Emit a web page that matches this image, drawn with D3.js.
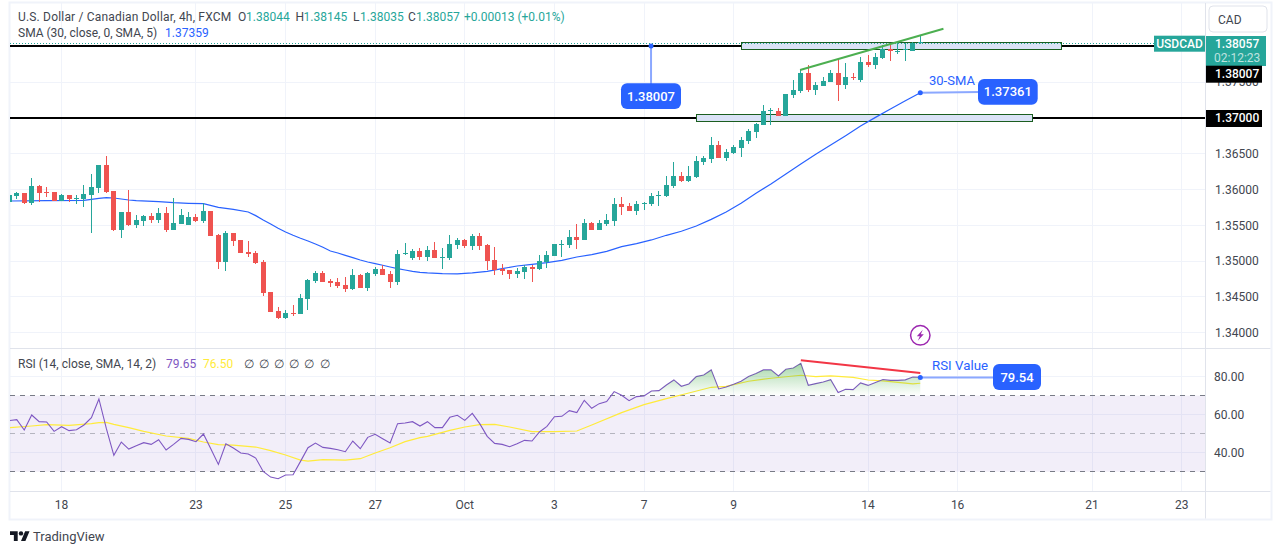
<!DOCTYPE html>
<html><head><meta charset="utf-8">
<script src="https://cdn.jsdelivr.net/npm/d3@7"></script>
<style>html,body{margin:0;padding:0;background:#fff}svg{display:block}text{font-family:Roboto,"Noto Sans",sans-serif}</style>
</head><body><svg id="c" width="1281" height="554"></svg>
<script>
const opens=[1.35831,1.35915,1.35952,1.35813,1.36050,1.35966,1.35966,1.35840,1.35924,1.35868,1.35868,1.35924,1.36022,1.36343,1.35980,1.35435,1.35687,1.35505,1.35561,1.35631,1.35575,1.35673,1.35435,1.35519,1.35505,1.35617,1.35561,1.35701,1.35365,1.34988,1.35393,1.35296,1.35128,1.35114,1.34988,1.34569,1.34304,1.34206,1.34271,1.34262,1.34471,1.34723,1.34835,1.34723,1.34709,1.34667,1.34611,1.34807,1.34625,1.34821,1.34890,1.34821,1.34709,1.35100,1.35044,1.35142,1.35058,1.35156,1.35049,1.35044,1.35226,1.35296,1.35212,1.35351,1.35226,1.35016,1.34890,1.34876,1.34821,1.34848,1.34918,1.34890,1.34988,1.35072,1.35226,1.35226,1.35337,1.35296,1.35533,1.35435,1.35519,1.35561,1.35799,1.35771,1.35701,1.35808,1.35799,1.35915,1.35910,1.36050,1.36190,1.36120,1.36176,1.36385,1.36427,1.36623,1.36441,1.36511,1.36581,1.36679,1.36804,1.36902,1.37098,1.37098,1.37028,1.37321,1.37377,1.37629,1.37391,1.37447,1.37503,1.37629,1.37461,1.37573,1.37531,1.37782,1.37741,1.37838,1.37964,1.37922,1.37946,1.37936,1.38044];
const highs=[1.35924,1.35966,1.35952,1.36162,1.36064,1.36036,1.35966,1.35938,1.35924,1.35924,1.36064,1.36218,1.36343,1.36469,1.35980,1.35687,1.35994,1.35645,1.35645,1.35673,1.35743,1.35757,1.35882,1.35729,1.35687,1.35659,1.35813,1.35701,1.35379,1.35421,1.35393,1.35296,1.35282,1.35142,1.35016,1.34569,1.34360,1.34318,1.34388,1.34541,1.34751,1.34862,1.34862,1.34751,1.34765,1.34779,1.34890,1.34821,1.34848,1.34918,1.34946,1.34862,1.35156,1.35254,1.35170,1.35184,1.35212,1.35268,1.35184,1.35365,1.35324,1.35310,1.35379,1.35393,1.35240,1.35198,1.34960,1.34876,1.34904,1.34946,1.34946,1.35086,1.35142,1.35240,1.35296,1.35435,1.35519,1.35589,1.35547,1.35575,1.35659,1.35882,1.35896,1.35813,1.35840,1.35826,1.35952,1.35980,1.36190,1.36385,1.36246,1.36329,1.36469,1.36469,1.36735,1.36679,1.36567,1.36623,1.36735,1.36846,1.36930,1.37182,1.37140,1.37140,1.37335,1.37531,1.37671,1.37741,1.37503,1.37573,1.37671,1.37824,1.37768,1.37629,1.37852,1.37880,1.37908,1.38020,1.38020,1.38048,1.38048,1.38062,1.38145];
const lows=[1.35831,1.35868,1.35799,1.35785,1.35826,1.35896,1.35840,1.35840,1.35826,1.35799,1.35757,1.35393,1.35952,1.35952,1.35421,1.35324,1.35491,1.35463,1.35491,1.35533,1.35533,1.35407,1.35435,1.35519,1.35505,1.35547,1.35533,1.35351,1.34890,1.34862,1.35212,1.35114,1.35058,1.34960,1.34513,1.34290,1.34192,1.34192,1.34234,1.34262,1.34318,1.34695,1.34709,1.34639,1.34625,1.34569,1.34597,1.34625,1.34583,1.34793,1.34807,1.34625,1.34667,1.35086,1.35016,1.35016,1.35002,1.35044,1.34890,1.35016,1.35170,1.35184,1.35156,1.35156,1.34876,1.34807,1.34807,1.34751,1.34765,1.34751,1.34709,1.34876,1.34904,1.35072,1.35058,1.35184,1.35170,1.35296,1.35435,1.35435,1.35491,1.35491,1.35645,1.35701,1.35645,1.35715,1.35771,1.35771,1.35896,1.36022,1.36106,1.36106,1.36162,1.36343,1.36371,1.36441,1.36399,1.36497,1.36455,1.36637,1.36721,1.36902,1.36902,1.37028,1.37028,1.37279,1.37349,1.37363,1.37321,1.37447,1.37503,1.37238,1.37405,1.37531,1.37503,1.37713,1.37685,1.37824,1.37796,1.37894,1.37796,1.37936,1.38035];
const closes=[1.35924,1.35952,1.35813,1.36050,1.35952,1.35952,1.35840,1.35924,1.35868,1.35882,1.35938,1.36036,1.36343,1.35966,1.35435,1.35687,1.35505,1.35575,1.35631,1.35575,1.35673,1.35435,1.35533,1.35645,1.35617,1.35561,1.35701,1.35351,1.34988,1.35393,1.35282,1.35114,1.35100,1.34974,1.34555,1.34290,1.34206,1.34276,1.34262,1.34485,1.34737,1.34835,1.34709,1.34695,1.34653,1.34611,1.34807,1.34625,1.34835,1.34890,1.34807,1.34709,1.35100,1.35109,1.35142,1.35058,1.35156,1.35044,1.35053,1.35240,1.35296,1.35212,1.35351,1.35212,1.35002,1.34876,1.34862,1.34821,1.34862,1.34918,1.34890,1.35002,1.35086,1.35240,1.35240,1.35337,1.35296,1.35533,1.35435,1.35533,1.35575,1.35799,1.35757,1.35701,1.35799,1.35817,1.35910,1.35924,1.36064,1.36190,1.36120,1.36190,1.36399,1.36441,1.36623,1.36441,1.36525,1.36595,1.36693,1.36818,1.36916,1.37098,1.37107,1.37028,1.37335,1.37391,1.37629,1.37391,1.37461,1.37517,1.37629,1.37461,1.37573,1.37564,1.37782,1.37741,1.37852,1.37964,1.37936,1.37936,1.37960,1.38043,1.38057];

const smaBars=[0,5,10,12,13,14,16,17,20,22,24,26,28,30,32,33,34,35,36,37,38,39,40,41,42,43,44,45,46,47,48,49,50,51,52,53,54,55,56,58,60,62,64,66,68,70,72,74,76,78,80,82,84,86,88,90,92,94,96,98,100,102,104,106,108,110,112,114,116,118,120,122];
const smaValues=[1.35840,1.35845,1.35850,1.35878,1.35887,1.35882,1.35854,1.35845,1.35831,1.35817,1.35808,1.35803,1.35752,1.35724,1.35687,1.35636,1.35575,1.35519,1.35459,1.35407,1.35361,1.35319,1.35282,1.35240,1.35193,1.35142,1.35114,1.35081,1.35049,1.35016,1.34988,1.34965,1.34942,1.34918,1.34895,1.34876,1.34858,1.34844,1.34835,1.34825,1.34821,1.34835,1.34858,1.34895,1.34932,1.34956,1.34979,1.35011,1.35058,1.35091,1.35137,1.35202,1.35244,1.35296,1.35361,1.35417,1.35491,1.35584,1.35687,1.35808,1.35948,1.36078,1.36218,1.36357,1.36492,1.36623,1.36753,1.36888,1.37009,1.37126,1.37242,1.37354];

const rsiValues=[56.84,57.37,51.93,59.82,56.31,56.14,51.22,53.68,51.58,52.10,54.56,58.42,68.24,52.63,38.59,45.61,41.93,43.68,45.26,44.38,46.84,41.40,44.38,47.54,47.01,45.79,49.82,41.93,33.86,44.73,42.45,39.82,39.29,37.19,30.17,27.19,26.31,28.24,28.42,35.44,42.63,45.08,42.80,42.28,41.58,40.52,46.14,42.10,48.07,49.65,47.36,45.08,55.26,55.61,56.31,54.03,56.31,53.16,53.16,58.59,59.65,57.01,60.70,55.26,48.59,44.91,44.38,43.16,44.73,46.49,46.14,50.87,53.86,58.94,59.12,62.10,61.05,67.54,63.33,65.79,66.84,72.10,70.17,67.37,69.47,69.82,72.45,72.63,75.61,78.24,74.91,76.14,80.00,80.87,83.51,73.51,74.56,75.96,77.54,80.00,81.58,83.51,83.51,80.35,83.86,84.56,87.01,75.44,76.31,77.19,78.42,71.58,73.33,73.15,76.66,75.38,76.95,78.50,78.00,78.00,78.30,79.74,79.65];
const rsiMaBars=[0,3,5,8,11,12,13,14,16,18,21,24,26,28,30,33,35,37,39,40,42,45,47,49,51,53,55,56,59,61,63,65,67,70,73,76,78,82,85,88,91,94,96,99,102,106,108,110,113,115,117,119,121,122];
const rsiMaValues=[53.16,54.03,54.73,54.38,55.26,55.79,55.96,54.91,53.16,51.22,48.77,47.54,45.61,44.21,44.03,42.98,41.05,38.77,36.14,35.61,36.31,36.14,36.84,39.82,42.63,45.79,47.89,48.59,51.75,53.51,54.73,54.91,53.51,51.05,51.05,51.40,54.56,61.05,65.26,68.42,71.40,74.38,74.91,77.54,79.12,80.70,80.00,80.35,79.60,78.20,77.80,76.95,76.20,76.50];

const timeTickBars=[7,25,37,49,61,73,85,97,115,127,145,157];
const timeTickLabels=["18","23","25","27","Oct","3","7","9","14","16","21","23"];
const priceGrid=[1.34,1.345,1.35,1.355,1.36,1.365,1.375,1.38];
const priceTicks=[1.34,1.345,1.35,1.355,1.36,1.365,1.375];
const rsiTicks=[40,60,80];
const rsiBands=[70,50,30];
const levels=[1.38007,1.37];
const zoneBars=[[98,140.9],[92.03,137.05]];
const zonePrices=[[1.38058,1.37954],[1.37052,1.36948]];
const trendBars=[105.9,125.1];
const trendPrices=[1.37671,1.38248];
const rsiTrendBars=[106,122];
const rsiTrendValues=[88.6,81.9];
const priceLineLevel=1.38038;

const svg=d3.select("#c");
const L=10,R=1205.5,T=3,B=518.5,PS=348.5,AX=491.5;
const x=d3.scaleLinear().domain([0,122]).range([9.3,920.3]);
const y=d3.scaleLinear().domain([1.37,1.34]).range([118,332.7]);
const ry=d3.scaleLinear().domain([40,80]).range([452.7,376.6]);
const C={up:"#26a69a",dn:"#ef5350",grid:"#f0f3fa",line:"#e0e3eb",txt:"#131722",leg:"#42464f",blue:"#2962ff",blueL:"#8ba8ff"};
const crisp=v=>Math.floor(v)+.5;

const defs=svg.append("defs");
defs.append("clipPath").attr("id","plot").append("rect").attr("x",L).attr("y",T).attr("width",R-L).attr("height",PS-T);
defs.append("clipPath").attr("id","rsi").append("rect").attr("x",L).attr("y",PS).attr("width",R-L).attr("height",AX-PS);
defs.append("clipPath").attr("id","ob").append("rect").attr("x",L).attr("y",PS).attr("width",R-L).attr("height",ry(70)-PS);
const gr=defs.append("linearGradient").attr("id","obg").attr("gradientUnits","userSpaceOnUse").attr("x1",0).attr("x2",0).attr("y1",ry(87)).attr("y2",ry(70));
gr.append("stop").attr("offset",0).attr("stop-color","#4caf50").attr("stop-opacity",.5);
gr.append("stop").attr("offset",1).attr("stop-color","#4caf50").attr("stop-opacity",0);

// frame
svg.append("rect").attr("x",9.5).attr("y",2.5).attr("width",1262).attr("height",517).attr("fill","#fff").attr("stroke",C.grid).attr("stroke-width",2);

// grid
const grid=svg.append("g").attr("stroke",C.grid).attr("stroke-width",1);
timeTickBars.forEach(b=>grid.append("line").attr("x1",crisp(x(b))).attr("x2",crisp(x(b))).attr("y1",T).attr("y2",AX));
priceGrid.forEach(p=>grid.append("line").attr("x1",L).attr("x2",R).attr("y1",crisp(y(p))).attr("y2",crisp(y(p))));
rsiTicks.forEach(v=>grid.append("line").attr("x1",L).attr("x2",R).attr("y1",crisp(ry(v))).attr("y2",crisp(ry(v))));

// RSI band
svg.append("rect").attr("x",L).attr("width",R-L).attr("y",ry(70)).attr("height",ry(30)-ry(70)).attr("fill","#7e57c2").attr("fill-opacity",.1);
rsiBands.forEach(v=>svg.append("line").attr("x1",L).attr("x2",R).attr("y1",crisp(ry(v))).attr("y2",crisp(ry(v)))
  .attr("stroke","#787b86").attr("stroke-opacity",v===50?.5:1).attr("stroke-dasharray","5 5"));

// level lines
levels.forEach(p=>svg.append("line").attr("x1",L).attr("x2",R).attr("y1",Math.round(y(p))).attr("y2",Math.round(y(p))).attr("stroke","#000").attr("stroke-width",2));
// zones
zoneBars.forEach((b,i)=>{
  const x0=crisp(x(b[0])),x1=crisp(x(b[1])),y0=crisp(y(zonePrices[i][0])),y1=crisp(y(zonePrices[i][1]));
  svg.append("rect").attr("x",x0).attr("width",x1-x0).attr("y",y0).attr("height",y1-y0)
    .attr("fill","#dae2f6").attr("stroke","#1b5e20").attr("stroke-width",1);
});
// price line
svg.append("line").attr("x1",L).attr("x2",1154).attr("y1",crisp(y(priceLineLevel))).attr("y2",crisp(y(priceLineLevel))).attr("stroke",C.up).attr("stroke-dasharray","1 2");

// candles
const plot=svg.append("g").attr("clip-path","url(#plot)");
const sma=d3.line().x((d,i)=>x(smaBars[i])).y(d=>y(d));
plot.append("path").datum(smaValues).attr("d",sma).attr("fill","none").attr("stroke",C.blue).attr("stroke-width",1.2);
const bars=opens.map((o,i)=>({i,o,h:highs[i],l:lows[i],c:closes[i]}));
plot.selectAll("line.w").data(bars).join("line").attr("class","w")
  .attr("x1",d=>crisp(x(d.i))).attr("x2",d=>crisp(x(d.i))).attr("y1",d=>Math.round(y(d.h))).attr("y2",d=>Math.round(y(d.l)))
  .attr("stroke",d=>d.c>=d.o?C.up:C.dn);
plot.selectAll("rect.b").data(bars).join("rect").attr("class","b")
  .attr("x",d=>Math.floor(x(d.i))-2).attr("width",5)
  .attr("y",d=>Math.round(y(Math.max(d.o,d.c))))
  .attr("height",d=>Math.max(1,Math.round(y(Math.min(d.o,d.c)))-Math.round(y(Math.max(d.o,d.c)))))
  .attr("fill",d=>d.c>=d.o?C.up:C.dn);
// trend
svg.append("line").attr("x1",x(trendBars[0])).attr("x2",x(trendBars[1])).attr("y1",y(trendPrices[0])).attr("y2",y(trendPrices[1])).attr("stroke","#4caf50").attr("stroke-width",2);

// RSI
const rg=svg.append("g").attr("clip-path","url(#rsi)");
const area=d3.area().x((d,i)=>x(i)).y0(ry(70)).y1(d=>ry(d));
svg.append("path").datum(rsiValues).attr("d",area).attr("fill","url(#obg)").attr("clip-path","url(#ob)");
rg.append("path").datum(rsiMaValues).attr("d",d3.line().x((d,i)=>x(rsiMaBars[i])).y(d=>ry(d))).attr("fill","none").attr("stroke","#ffeb3b").attr("stroke-width",1.2);
rg.append("path").datum(rsiValues).attr("d",d3.line().x((d,i)=>x(i)).y(d=>ry(d))).attr("fill","none").attr("stroke","#7e57c2").attr("stroke-width",1.1);
svg.append("line").attr("x1",x(rsiTrendBars[0])).attr("x2",x(rsiTrendBars[1])).attr("y1",ry(rsiTrendValues[0])).attr("y2",ry(rsiTrendValues[1])).attr("stroke","#f23645").attr("stroke-width",2);

// callouts
function box(bx,by,w,h,t){
  svg.append("rect").attr("x",bx).attr("y",by).attr("width",w).attr("height",h).attr("rx",6).attr("fill",C.blue);
  svg.append("text").attr("x",bx+w/2).attr("y",by+h/2).attr("dy",".35em").attr("text-anchor","middle").attr("fill","#fff").attr("font-size",13).attr("font-weight",500).text(t);
}
const a1x=x(85.94),a1y=y(1.38007);
svg.append("line").attr("x1",a1x).attr("x2",a1x).attr("y1",a1y).attr("y2",84).attr("stroke",C.blueL).attr("stroke-width",2);
svg.append("circle").attr("cx",a1x).attr("cy",a1y).attr("r",2.5).attr("fill",C.blue);
box(621,83.3,60,25.7,"1.38007");
const a2x=x(122),a2y=y(1.37354);
svg.append("line").attr("x1",a2x).attr("x2",980).attr("y1",a2y).attr("y2",92).attr("stroke",C.blueL).attr("stroke-width",2);
svg.append("circle").attr("cx",a2x).attr("cy",a2y).attr("r",2.5).attr("fill",C.blue);
box(978,79,59.7,25.7,"1.37361");
svg.append("text").attr("x",929).attr("y",80).attr("dy",".35em").attr("fill",C.blue).attr("font-size",13).text("30-SMA");
const a3x=x(122),a3y=ry(79.54);
svg.append("line").attr("x1",a3x).attr("x2",994).attr("y1",a3y).attr("y2",a3y).attr("stroke",C.blueL).attr("stroke-width",2);
svg.append("circle").attr("cx",a3x).attr("cy",a3y).attr("r",2.5).attr("fill",C.blue);
box(993,364,48,26,"79.54");
svg.append("text").attr("x",932).attr("y",365).attr("dy",".35em").attr("fill",C.blue).attr("font-size",13.3).text("RSI Value");

// lightning icon
const ic=svg.append("g").attr("transform","translate(920.3,335.3)");
ic.append("circle").attr("r",9.7).attr("fill","#fff").attr("stroke","#9c27b0").attr("stroke-width",1.5);
ic.append("path").attr("d","M2.5,-5.5 L-3.5,1 L-0.5,1 L-2.5,5.5 L3.5,-1 L0.5,-1 Z").attr("fill","#9c27b0");

// separators & axes
const sep=svg.append("g").attr("stroke",C.line);
sep.append("line").attr("x1",L).attr("x2",1270.5).attr("y1",PS).attr("y2",PS);
sep.append("line").attr("x1",L).attr("x2",1270.5).attr("y1",AX).attr("y2",AX);
sep.append("line").attr("x1",R).attr("x2",R).attr("y1",T).attr("y2",B);

const FS=12;
priceTicks.forEach(p=>svg.append("text").attr("x",1215).attr("y",y(p)).attr("dy",".35em").attr("font-size",FS).attr("fill",C.leg).text(p.toFixed(5)));
rsiTicks.forEach(v=>svg.append("text").attr("x",1214).attr("y",ry(v)).attr("dy",".35em").attr("font-size",FS).attr("fill",C.leg).text(v.toFixed(2)));
timeTickBars.forEach((b,i)=>svg.append("text").attr("x",x(b)).attr("y",504.7).attr("dy",".35em").attr("text-anchor","middle").attr("font-size",FS).attr("fill",C.leg).text(timeTickLabels[i]));

// price labels
svg.append("rect").attr("x",1209).attr("y",6).attr("width",58).attr("height",26).attr("rx",4).attr("fill","#fff").attr("stroke",C.line).attr("stroke-width",1);
svg.append("text").attr("x",1218).attr("y",19.5).attr("dy",".35em").attr("font-size",FS).attr("fill",C.leg).text("CAD");
svg.append("rect").attr("x",1154).attr("y",35.7).attr("width",51).attr("height",16).attr("fill",C.up);
svg.append("text").attr("x",1179.5).attr("y",43.7).attr("dy",".35em").attr("text-anchor","middle").attr("font-size",FS).attr("font-weight",500).attr("fill","#fff").text("USDCAD");
svg.append("rect").attr("x",1206).attr("y",36).attr("width",60).attr("height",30).attr("fill",C.up);
svg.append("text").attr("x",1215).attr("y",43.7).attr("dy",".35em").attr("font-size",FS).attr("font-weight",500).attr("fill","#fff").text("1.38057");
svg.append("text").attr("x",1214).attr("y",57.7).attr("dy",".35em").attr("font-size",FS).attr("fill","#fff").attr("fill-opacity",.7).text("02:12:23");
[[65.7,74,"1.38007"],[110,118,"1.37000"]].forEach(d=>{
  svg.append("rect").attr("x",1206).attr("y",d[0]).attr("width",56).attr("height",17).attr("fill","#000");
  svg.append("text").attr("x",1215).attr("y",d[1]).attr("dy",".35em").attr("font-size",FS).attr("font-weight",500).attr("fill","#fff").text(d[2]);
});

// legends
function leg(px,py,t,c){return svg.append("text").attr("x",px).attr("y",py).attr("dy",".35em").attr("font-size",FS).attr("fill",c||C.leg).text(t);}
leg(18,17,"U.S. Dollar / Canadian Dollar, 4h, FXCM").attr("letter-spacing",.18);
leg(238,17,"O");leg(246,17,"1.38044",C.up);
leg(295.5,17,"H");leg(303.5,17,"1.38145",C.up);
leg(353,17,"L");leg(360,17,"1.38035",C.up);
leg(408,17,"C");leg(416,17,"1.38057",C.up);
leg(464,17,"+0.00013 (+0.01%)",C.up);
leg(18,33,"SMA (30, close, 0, SMA, 5)");leg(165,33,"1.37359",C.blue);
leg(18,364,"RSI (14, close, SMA, 14, 2)");
leg(166,364,"79.65","#7e57c2");leg(203,364,"76.50","#ffeb3b");
[244,259,274,289,304,320].forEach(px=>leg(px,364,"∅"));

// logo
const lg=svg.append("g").attr("transform","translate(10,529) scale(.55)").attr("fill","#131722");
lg.append("path").attr("d","M14 22H7V11H0V4h14v18zM28 22h-8l7.5-18h8L28 22z");
lg.append("circle").attr("cx",20).attr("cy",8).attr("r",4);
svg.append("text").attr("x",33).attr("y",536).attr("dy",".35em").attr("font-size",13).attr("fill",C.leg).text("TradingView");
</script></body></html>
